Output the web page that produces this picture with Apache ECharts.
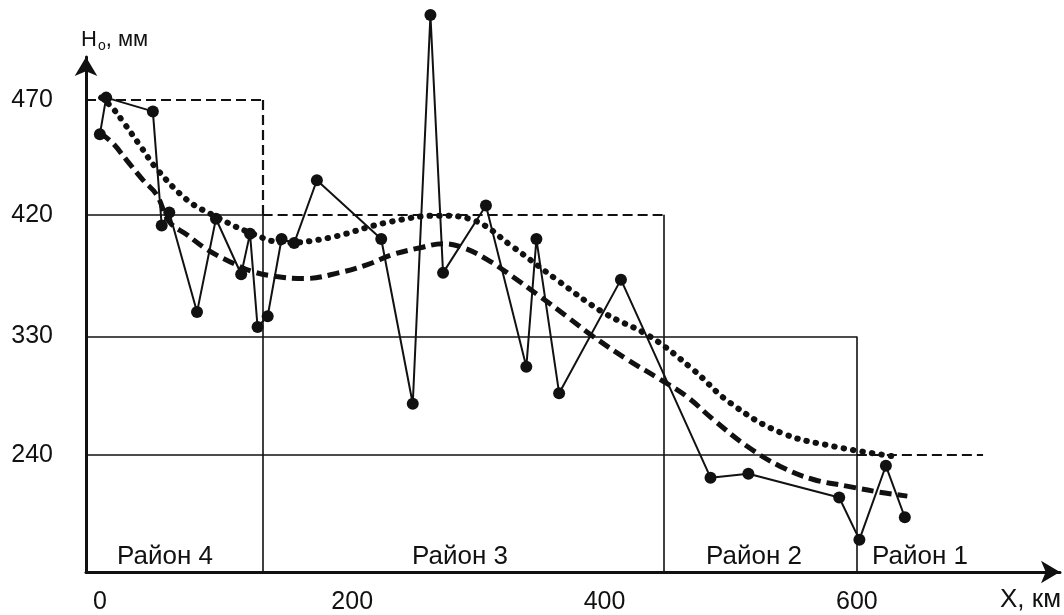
<!DOCTYPE html>
<html><head><meta charset="utf-8">
<script src="https://cdn.jsdelivr.net/npm/echarts@6/dist/echarts.min.js"></script>
<style>html,body{margin:0;padding:0;background:#fff}#c{width:1064px;height:615px}</style>
</head><body><div id="c"></div>
<script>
// ---- data (km along route, mm) ----
const stationKm = [0,5,42,49,55,77,92,112,119,125,133,144,154,172,223,248,262,272,306,338,346,364,413,484,514,586,602,623,638];
const stationMm = [455,471,465,412,421,348,417,376,406,337,345,402,399,435,402,279,507,377,424,307,402,287,372,223,226,208,176,232,193];

const dottedKm = [1,10,19,32,45,69,89,119,147,182,227,269,297,327,362,399,436,470,499,539,581,634];
const dottedMm = [471,466.5,460,450,440,426.5,420,406.7,399.3,403,414.1,419.3,415.6,396.4,372,347.7,330,305,280.1,257.4,246.8,238.5];

const dashedKm = [0,10,21,34,45,55,69,85,103,121,140,162,190,212,232,254,272,288,307,327,349,370,391,418,444,465,486,513,539,565,592,618,640];
const dashedMm = [455.7,451.3,443.9,435.2,428.7,414.8,405.2,394.2,385.3,378,374.3,372.8,377.2,383.1,390.5,395.6,398.6,395.6,386.8,374.3,359.5,344.8,330,312.6,297.5,284.6,267.2,246.8,231.7,221.8,216.6,212,209];

const districtNames = ['Район 4','Район 3','Район 2','Район 1'];
const districtStartKm = [0,129,447,600];
const districtEndKm = [129,447,600,700];
const districtLevelMm = [470,420,330,240];

const yTickLabels = [470,420,330,240];
const xTickLabels = [0,200,400,600];

// ---- non-uniform ordinate scale of the original figure (mm -> axis units) ----
const SCALE_MM = [240,330,420,470];
const SCALE_U  = [117,236,358,473];
function mmToU(mm){
  if (mm <= SCALE_MM[0]) return SCALE_U[0] - (SCALE_MM[0]-mm)*(SCALE_U[1]-SCALE_U[0])/(SCALE_MM[1]-SCALE_MM[0]);
  const n = SCALE_MM.length-1;
  if (mm >= SCALE_MM[n]) return SCALE_U[n] + (mm-SCALE_MM[n])*(SCALE_U[n]-SCALE_U[n-1])/(SCALE_MM[n]-SCALE_MM[n-1]);
  for (let i=0;i<n;i++){
    if (mm <= SCALE_MM[i+1]){
      const t=(mm-SCALE_MM[i])/(SCALE_MM[i+1]-SCALE_MM[i]);
      return SCALE_U[i]+t*(SCALE_U[i+1]-SCALE_U[i]);
    }
  }
}
const X_MIN = -11, X_MAX = 761, U_MAX = 516;
const yTickU = yTickLabels.map(mmToU);

const INK = '#111';
const dashStyle = {type:[10,5], width:2.2, color:INK};
const solidStyle = {type:'solid', width:1.6, color:INK};
const topDashed = [true,true,false,true];
const edgeDashed = [true,false,false];

const segs = [];
function seg(x1,u1,x2,u2,style){ segs.push([{coord:[x1,u1], lineStyle:style},{coord:[x2,u2]}]); }
for (let i=0;i<districtNames.length;i++){
  const lv = mmToU(districtLevelMm[i]);
  const x0 = i===0 ? X_MIN : districtStartKm[i];
  seg(x0, lv, districtEndKm[i], lv, topDashed[i]?dashStyle:solidStyle);
  if (i>0){
    const prev = mmToU(districtLevelMm[i-1]);
    seg(X_MIN, lv, districtStartKm[i], lv, solidStyle);
    seg(districtStartKm[i], prev, districtStartKm[i], lv, edgeDashed[i-1]?dashStyle:solidStyle);
    seg(districtStartKm[i], lv, districtStartKm[i], 0, solidStyle);
  }
}

const FONT = 'Liberation Sans, Arial, sans-serif';
const chart = echarts.init(document.getElementById('c'), null, {renderer:'canvas'});
const labelY = 557;
const districtLabelX = [165,460,754,920];
chart.setOption({
  animation:false,
  backgroundColor:'#fff',
  grid:{left:86,right:4,top:57,bottom:42,containLabel:false},
  xAxis:{type:'value',min:X_MIN,max:X_MAX,
    axisLine:{show:true,onZero:false,lineStyle:{color:INK,width:3},symbol:['none','arrow'],symbolSize:[17,19]},
    axisTick:{show:false},splitLine:{show:false},
    axisLabel:{customValues:xTickLabels,fontSize:25,fontFamily:FONT,color:INK,margin:18}},
  yAxis:{type:'value',min:0,max:U_MAX,
    axisLine:{show:true,onZero:false,lineStyle:{color:INK,width:3},symbol:['none','arrow'],symbolSize:[17,19]},
    axisTick:{show:false},splitLine:{show:false},
    axisLabel:{customValues:yTickU,fontSize:25,fontFamily:FONT,color:INK,margin:33,
      formatter:v=>{const i=yTickU.findIndex(u=>Math.abs(u-v)<0.01);return i>=0?String(yTickLabels[i]):'';}}},
  series:[
    {type:'line',data:[],silent:true,
      markLine:{silent:true,symbol:['none','none'],label:{show:false},animation:false,emphasis:{disabled:true},data:segs}},
    {type:'line',name:'dotted',data:dottedKm.map((k,i)=>[k,mmToU(dottedMm[i])]),smooth:0.4,showSymbol:false,
      lineStyle:{color:INK,width:6,type:[0.5,9],cap:'round'},z:3,silent:true},
    {type:'line',name:'dashed',data:dashedKm.map((k,i)=>[k,mmToU(dashedMm[i])]),smooth:0.4,showSymbol:false,
      lineStyle:{color:INK,width:5,type:[12,6]},z:3,silent:true},
    {type:'line',name:'stations',data:stationKm.map((k,i)=>[k,mmToU(stationMm[i])]),clip:false,
      symbol:'circle',symbolSize:12,showAllSymbol:true,
      lineStyle:{color:INK,width:2},itemStyle:{color:INK},z:5,silent:true}
  ],
  graphic:[
    ...districtNames.map((n,i)=>({type:'text',x:districtLabelX[i],y:labelY,
      style:{text:n,fontSize:26,fontFamily:FONT,fill:INK,align:'center',verticalAlign:'middle'}})),
    {type:'text',x:1061,y:600,style:{text:'X, км',fontSize:26,fontFamily:FONT,fill:INK,align:'right',verticalAlign:'middle'}},
    {type:'text',x:81,y:40,style:{text:'{a|H}{b|о}{a|, мм}',fill:INK,verticalAlign:'middle',
      rich:{a:{fontSize:22,fontFamily:FONT,fill:INK},b:{fontSize:14,fontFamily:FONT,fill:INK,padding:[12,0,0,1]}}}}
  ]
});
</script></body></html>
